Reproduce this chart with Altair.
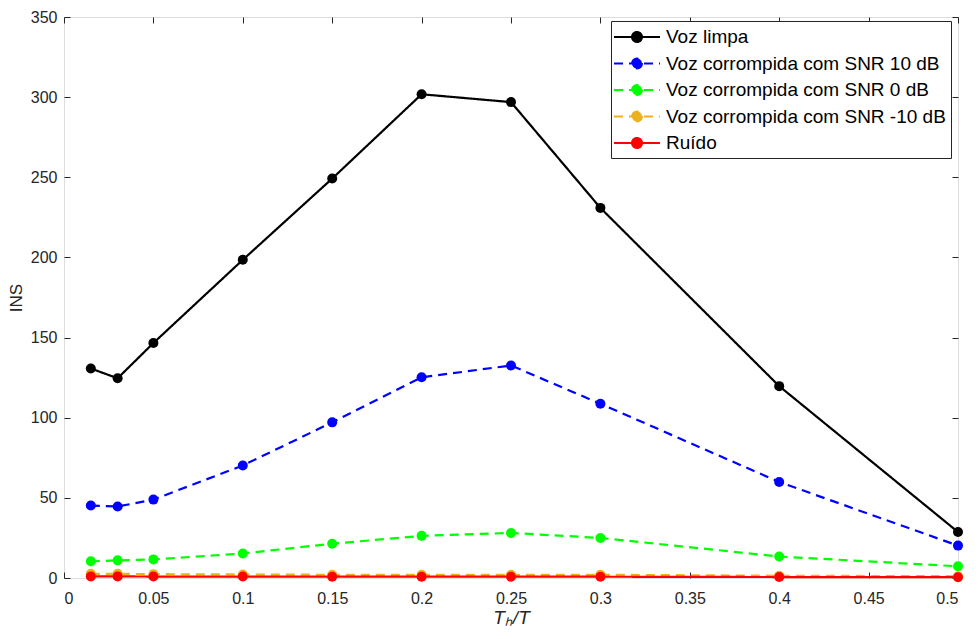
import altair as alt
import pandas as pd

x_vals = [0.015, 0.03, 0.05, 0.1, 0.15, 0.2, 0.25, 0.3, 0.4, 0.5]
voz_limpa = [130.7, 124.6, 146.6, 198.5, 249.2, 301.8, 296.9, 230.9, 119.7, 28.7]
snr_10 = [45.2, 44.6, 48.9, 70.2, 97.1, 125.2, 132.6, 108.7, 59.9, 20.2]
snr_0 = [10.4, 11.0, 11.6, 15.3, 21.4, 26.3, 28.1, 25.0, 13.4, 7.3]
snr_m10 = [2.6, 2.6, 2.4, 2.2, 2.0, 2.0, 2.0, 2.0, 1.4, 1.1]
ruido = [1.0, 1.0, 0.9, 0.9, 0.8, 0.8, 0.8, 0.8, 0.6, 0.5]

series_names = ["Voz limpa", "Voz corrompida com SNR 10 dB", "Voz corrompida com SNR 0 dB",
                "Voz corrompida com SNR -10 dB", "Ruído"]
series_vals = [voz_limpa, snr_10, snr_0, snr_m10, ruido]
colors = ["#000000", "#0000FF", "#00FF00", "#EDB120", "#FF0000"]
dashes = [[1, 0], [9, 6], [9, 6], [9, 6], [1, 0]]
x_ticks = [0, 0.05, 0.1, 0.15, 0.2, 0.25, 0.3, 0.35, 0.4, 0.45, 0.5]
y_ticks = [0, 50, 100, 150, 200, 250, 300, 350]

rows = []
for i, (name, vals) in enumerate(zip(series_names, series_vals)):
    for xv, yv in zip(x_vals, vals):
        rows.append({"x": xv, "y": yv, "series": name, "order": i})
df = pd.DataFrame(rows)

AX = "#262626"
FONT = "Liberation Sans"

sym_path = ("M-2.3,0H2.3M-0.5,0A0.5,0.5 0 1,1 0.5,0A0.5,0.5 0 1,1 -0.5,0Z")

color_scale = alt.Scale(domain=series_names, range=colors)
dash_scale = alt.Scale(domain=series_names, range=dashes)

legend = alt.Legend(
    title=None, orient="none", legendX=547, legendY=4,
    symbolType=sym_path, symbolSize=400, symbolStrokeWidth=2,
    symbolOffset=10, labelOffset=18, padding=5, rowPadding=5.5,
    labelFontSize=19, labelFont=FONT, labelColor="#000000",
    strokeColor=AX, fillColor="white", labelLimit=400,
)

xs = alt.Scale(domain=[0, 0.5], nice=False, zero=False)
ys = alt.Scale(domain=[0, 350], nice=False)

x_axis = alt.Axis(values=x_ticks, format="~g", grid=False, domain=False, tickSize=6, offset=-6,
                  labelPadding=12, tickColor=AX, labelColor=AX, labelFontSize=16, labelFont=FONT,
                  title="Tₕ/T", titleFont=FONT, titleFontSize=19, titleFontStyle="italic",
                  titleFontWeight="normal", titleColor=AX, titlePadding=2)
y_axis = alt.Axis(values=y_ticks, grid=False, domain=False, tickSize=6, offset=-6,
                  labelPadding=7, tickColor=AX, labelColor=AX, labelFontSize=16, labelFont=FONT,
                  title="INS", titleFont=FONT, titleFontSize=17, titleFontWeight="normal",
                  titleColor=AX, titlePadding=5)

x_top = alt.Axis(orient="top", values=x_ticks, labels=False, grid=False, domain=False, tickSize=6,
                 offset=-6, tickColor=AX, title=None)
y_right = alt.Axis(orient="right", values=y_ticks, labels=False, grid=False, domain=False, tickSize=6,
                   offset=-6, tickColor=AX, title=None)

lines = alt.Chart(df).mark_line(strokeWidth=2.2).encode(
    x=alt.X("x:Q", scale=xs, axis=x_axis),
    y=alt.Y("y:Q", scale=ys, axis=y_axis),
    color=alt.Color("series:N", scale=color_scale, legend=legend, sort=series_names),
    strokeDash=alt.StrokeDash("series:N", scale=dash_scale, legend=legend, sort=series_names),
    detail="series:N",
    order="order:Q",
)

points = alt.Chart(df).mark_point(filled=True, size=100, opacity=1, shape="circle").encode(
    x=alt.X("x:Q", scale=xs, axis=None),
    y=alt.Y("y:Q", scale=ys, axis=None),
    color=alt.Color("series:N", scale=color_scale, legend=legend, sort=series_names),
    order="order:Q",
)

frame_axes = alt.Chart(df).mark_point(opacity=0).encode(
    x=alt.X("x:Q", scale=xs, axis=x_top),
    y=alt.Y("y:Q", scale=ys, axis=y_right),
)

chart = alt.layer(lines, points, frame_axes).resolve_axis(x="independent", y="independent").properties(
    width=894, height=561,
    autosize=alt.AutoSizeParams(type="none"),
    padding={"left": 56, "top": 9, "right": 11, "bottom": 51},
).configure_view(stroke=AX, strokeWidth=1).configure(background="white")

chart.save("out.html", embed_options={"renderer": "svg", "actions": False})
